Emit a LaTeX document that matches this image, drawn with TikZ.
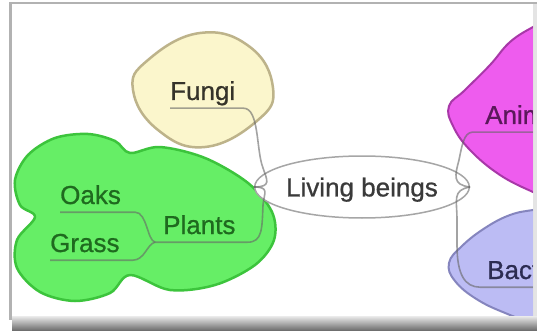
\documentclass[tikz,border=0pt]{standalone}
\usepackage{fontspec}
\setmainfont{Liberation Sans}
\newfontfamily\mapfont[FakeBold=0.8]{Liberation Sans}
\usetikzlibrary{shapes.geometric}

\definecolor{fungifill}{HTML}{FBF6CC}
\definecolor{fungiline}{HTML}{BDB38A}
\definecolor{fungitext}{HTML}{35332A}
\definecolor{plantfill}{HTML}{66EE66}
\definecolor{plantline}{HTML}{3CC43C}
\definecolor{planttext}{HTML}{1F6A1F}
\definecolor{animfill}{HTML}{EE5CEE}
\definecolor{animline}{HTML}{A838A8}
\definecolor{animtext}{HTML}{5A185A}
\definecolor{bactfill}{HTML}{BCBCF4}
\definecolor{bactline}{HTML}{8585BE}
\definecolor{bacttext}{HTML}{2C2C52}
\definecolor{livetext}{HTML}{3A3A3A}

\tikzset{
  word/.style={font=\mapfont\fontsize{26}{30}\selectfont, inner sep=0pt, text depth=8pt, anchor=base west},
  blob/.style={line width=2.5pt, line join=round},
  link/.style={draw=black!60, draw opacity=0.6, line width=1.6pt},
}

\begin{document}
\begin{tikzpicture}[x=1pt, y=1pt]
  \useasboundingbox (0,0) rectangle (537,-331);
  \fill[white] (0,0) rectangle (537,-331);

  \begin{scope}
    \clip (12,-5) rectangle (533,-324);

    % the four blobs
    \draw[blob, draw=fungiline, fill=fungifill] plot[smooth cycle, tension=0.75]
      coordinates {(133,-90) (148,-60) (200,-33) (250,-47) (273,-88) (258,-120) (205,-147) (158,-130)};
    \draw[blob, draw=plantline, fill=plantfill] plot[smooth cycle, tension=0.55]
      coordinates {(20,-205) (15,-180) (28,-155) (55,-138) (88,-134) (115,-141) (130,-153)
                   (160,-147) (205,-158) (248,-183) (272,-212) (274,-240) (255,-265) (215,-285)
                   (170,-290) (130,-275) (110,-293) (75,-301) (40,-292) (17,-268) (17,-240) (35,-217)};
    \draw[line width=2pt, draw=animline, fill=animfill]
      plot[smooth, tension=0.7] coordinates {(545,-22) (533,-27) (510,-42) (490,-65) (465,-90) (449,-106) (453,-126) (470,-150) (500,-175) (533,-192) (545,-196)}
      -- cycle;
    \draw[line width=2pt, draw=bactline, fill=bactfill]
      plot[smooth, tension=0.7] coordinates {(545,-209) (533,-210) (510,-215) (485,-228) (462,-246) (449,-263) (455,-281) (478,-300) (510,-315) (545,-328)}
      -- cycle;

    % centre
    \node[ellipse, draw=black!35, line width=1.5pt, fill=white, minimum width=164pt, minimum height=62pt,
          inner sep=0pt, font=\mapfont\fontsize{26}{30}\selectfont, text=livetext, text depth=0pt] (living) at (362,-187) {Living beings};

    % labels
    \node[word, text=fungitext] (fungi) at (170,-100) {Fungi};
    \node[word, text=planttext] (oaks) at (60,-204) {Oaks};
    \node[word, text=planttext] (grass) at (50,-252) {Grass};
    \node[word, text=planttext] (plants) at (163,-234) {Plants};
    \node[word, text=animtext] (anim) at (485,-124) {Anim};
    \node[word, text=bacttext] (bact) at (487,-279) {Bact};

    \coordinate (plantsroot) at ([xshift=-8pt]plants.south west);

    % links
    \draw[link] (fungi.south west) -- ([xshift=8pt]fungi.south east)
      .. controls +(16,0) and (256,-150) .. (263,-168)
      .. controls (267,-180) and (272,-187) .. (living.west);
    \draw[link] (plantsroot) -- ([xshift=12pt]plants.south east)
      .. controls +(15,0) and (262,-228) .. (263,-205)
      .. controls (264,-193) and (270,-187) .. (living.west);
    \draw[link] (oaks.south west) -- ([xshift=14pt]oaks.south east)
      .. controls +(12,0) and (147,-240) .. (plantsroot);
    \draw[link] (grass.south west) -- ([xshift=13pt]grass.south east)
      .. controls +(12,0) and (147,-244) .. (plantsroot);
    \draw[link] (living.east) .. controls (452,-185) and (455,-175) .. (459,-160)
      .. controls (462,-145) and (464,-133) .. ([xshift=-13pt]anim.south west) -- ++(90,0);
    \draw[link] (living.east) .. controls (452,-190) and (457,-200) .. (457,-220)
      -- (457,-245) .. controls (457,-275) and (465,-287) .. ([xshift=-7pt]bact.south west) -- ++(90,0);
  \end{scope}

  % frame
  \fill[black!30] (9,-2) rectangle (12,-320);
  \fill[black!30] (9,-2) rectangle (537,-4.5);
  \fill[black!15, opacity=0.7] (533,-4.5) rectangle (537,-317);
  \shade[top color=black!8, bottom color=black!60] (12,-316) rectangle (537,-331);
\end{tikzpicture}
\end{document}
